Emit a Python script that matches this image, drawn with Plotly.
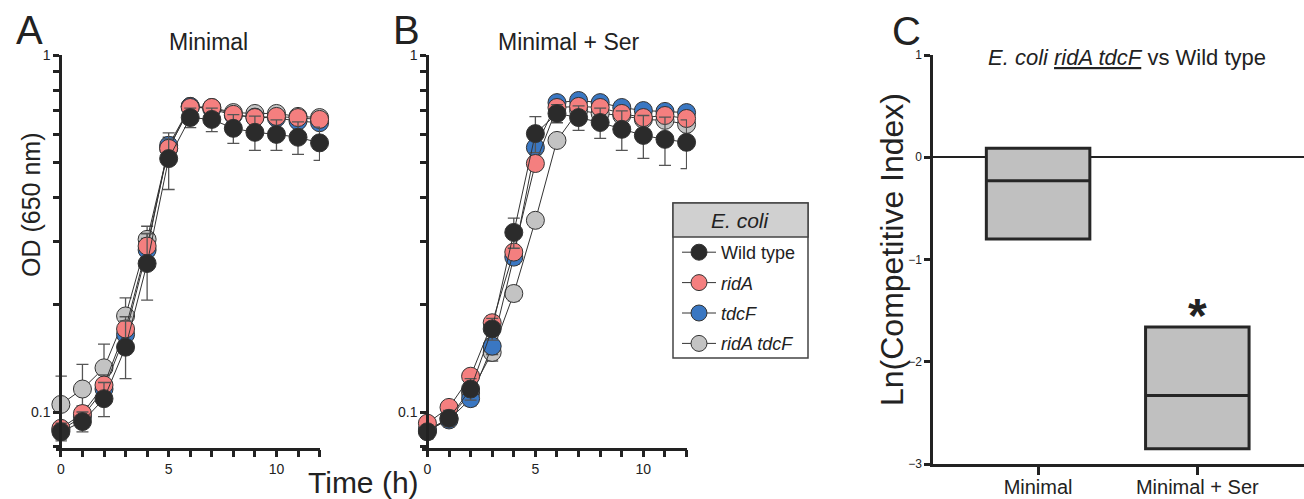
import plotly.graph_objects as go

# ---------------- data ----------------
time_h = list(range(13))

strain_names = ["Wild type", "<i>ridA</i>", "<i>tdcF</i>", "<i>ridA tdcF</i>"]
strain_colors = ["#2b2b2b", "#f47f7f", "#3a77c2", "#c3c3c3"]

# Panel A: Minimal medium (OD650)
wt_min = [0.088, 0.094, 0.109, 0.152, 0.261, 0.514, 0.670, 0.662, 0.625, 0.609, 0.601, 0.590, 0.569]
wt_min_sd = [0.005, 0.006, 0.012, 0.028, 0.055, 0.093, 0.042, 0.050, 0.058, 0.067, 0.059, 0.062, 0.061]
ridA_min = [0.090, 0.099, 0.119, 0.171, 0.292, 0.549, 0.715, 0.715, 0.684, 0.670, 0.675, 0.670, 0.662]
ridA_min_sd = [0.004, 0.005, 0.008, 0.014, 0.025, 0.035, 0.018, 0.018, 0.020, 0.020, 0.018, 0.018, 0.018]
tdcF_min = [0.089, 0.097, 0.116, 0.165, 0.285, 0.560, 0.720, 0.708, 0.680, 0.672, 0.668, 0.655, 0.648]
tdcF_min_sd = [0.004, 0.005, 0.007, 0.012, 0.022, 0.030, 0.015, 0.015, 0.015, 0.015, 0.015, 0.015, 0.015]
dbl_min = [0.105, 0.116, 0.133, 0.186, 0.305, 0.549, 0.720, 0.715, 0.692, 0.688, 0.688, 0.675, 0.670]
dbl_min_sd = [0.021, 0.020, 0.022, 0.023, 0.027, 0.030, 0.010, 0.012, 0.012, 0.012, 0.012, 0.012, 0.012]

# Panel B: Minimal + Ser (OD650)
wt_ser = [0.088, 0.096, 0.116, 0.171, 0.319, 0.604, 0.688, 0.670, 0.649, 0.621, 0.597, 0.582, 0.571]
wt_ser_sd = [0.004, 0.005, 0.008, 0.012, 0.031, 0.070, 0.040, 0.053, 0.063, 0.079, 0.082, 0.090, 0.089]
ridA_ser = [0.093, 0.103, 0.126, 0.178, 0.281, 0.498, 0.715, 0.720, 0.715, 0.688, 0.670, 0.679, 0.666]
ridA_ser_sd = [0.003, 0.004, 0.005, 0.008, 0.012, 0.020, 0.025, 0.025, 0.025, 0.025, 0.025, 0.025, 0.025]
tdcF_ser = [0.089, 0.095, 0.109, 0.153, 0.272, 0.552, 0.738, 0.748, 0.738, 0.715, 0.701, 0.697, 0.692]
tdcF_ser_sd = [0.003, 0.004, 0.005, 0.008, 0.012, 0.025, 0.015, 0.015, 0.015, 0.015, 0.015, 0.015, 0.015]
dbl_ser = [0.089, 0.096, 0.113, 0.147, 0.215, 0.345, 0.578, 0.701, 0.688, 0.679, 0.662, 0.658, 0.641]
dbl_ser_sd = [0.003, 0.004, 0.005, 0.008, 0.010, 0.015, 0.020, 0.020, 0.020, 0.020, 0.020, 0.020, 0.020]

# Panel C: Ln(Competitive Index), floating bars (min - max, line at median)
ci_groups = ["Minimal", "Minimal + Ser"]
ci_min = [-0.80, -2.85]
ci_median = [-0.23, -2.33]
ci_max = [0.088, -1.66]

od_ticks = [0.08, 0.1, 0.2, 0.3, 0.4, 0.5, 0.6, 0.7, 0.8, 0.9, 1]
od_ticktext = ["", "0.1", "", "", "", "", "", "", "", "", "1"]
time_ticks = list(range(13))
time_ticktext = ["0", "", "", "", "", "5", "", "", "", "", "10", "", ""]

# ---------------- figure ----------------
W, H = 1304, 499
FONT = "Liberation Sans, Arial, sans-serif"
AX = "#222222"


def px(x):
    return x / W


def py(y):
    return 1 - y / H


fig = go.Figure()

series_A = [
    (3, dbl_min, dbl_min_sd),
    (2, tdcF_min, tdcF_min_sd),
    (1, ridA_min, ridA_min_sd),
    (0, wt_min, wt_min_sd),
]
series_B = [
    (3, dbl_ser, dbl_ser_sd),
    (2, tdcF_ser, tdcF_ser_sd),
    (1, ridA_ser, ridA_ser_sd),
    (0, wt_ser, wt_ser_sd),
]

for (idx, vals, sd) in series_A:
    fig.add_trace(go.Scatter(
        x=time_h, y=vals, mode="lines+markers", xaxis="x", yaxis="y",
        name=strain_names[idx], legendgroup=f"g{idx}", legendrank=idx + 1,
        showlegend=False, cliponaxis=False,
        line=dict(color="#333333", width=1),
        marker=dict(size=18, color=strain_colors[idx], line=dict(color="#333333", width=1)),
        error_y=dict(type="data", array=sd, color="#555555", thickness=1.3, width=6),
    ))

for (idx, vals, sd) in series_B:
    fig.add_trace(go.Scatter(
        x=time_h, y=vals, mode="lines+markers", xaxis="x2", yaxis="y2",
        name=strain_names[idx], legendgroup=f"g{idx}", legendrank=idx + 1,
        showlegend=True, cliponaxis=False,
        line=dict(color="#333333", width=1),
        marker=dict(size=18, color=strain_colors[idx], line=dict(color="#333333", width=1)),
        error_y=dict(type="data", array=sd, color="#555555", thickness=1.3, width=6),
    ))

fig.add_trace(go.Box(
    x=ci_groups, q1=ci_min, median=ci_median, q3=ci_max,
    lowerfence=ci_min, upperfence=ci_max,
    xaxis="x3", yaxis="y3", width=0.65, whiskerwidth=0,
    fillcolor="#c0c0c0", line=dict(color="#262626", width=3),
    showlegend=False, hoverinfo="skip",
))

common_x = dict(
    type="linear", range=[-0.25, 12.02], tickmode="array", tickvals=time_ticks,
    ticktext=time_ticktext, ticks="outside", ticklen=7, tickwidth=2.5, tickcolor=AX,
    showline=True, linecolor=AX, linewidth=2.5, showgrid=False, zeroline=False,
    tickfont=dict(size=14, color="#222", family=FONT), automargin=False,
)
common_y = dict(
    type="log", range=[-1.0996, 0.003], tickmode="array", tickvals=od_ticks,
    ticktext=od_ticktext, ticks="outside", ticklen=6, tickwidth=2.5, tickcolor=AX,
    showline=True, linecolor=AX, linewidth=2.5, showgrid=False, zeroline=False,
    tickfont=dict(size=14, color="#222", family=FONT), anchor="free",
    domain=[py(447.5), py(54.5)], automargin=False,
)

fig.update_layout(
    width=W, height=H,
    margin=dict(l=0, r=0, t=0, b=0, autoexpand=False),
    paper_bgcolor="white", plot_bgcolor="rgba(0,0,0,0)",
    font=dict(family=FONT, color="#222"),
    xaxis=dict(common_x, domain=[px(55.5), px(320)], anchor="y"),
    yaxis=dict(common_y, position=px(60)),
    xaxis2=dict(common_x, domain=[px(422), px(687)], anchor="y2"),
    yaxis2=dict(common_y, position=px(427)),
    xaxis3=dict(
        type="category", range=[-0.66, 1.67], domain=[px(933), 1.0], anchor="y3",
        ticks="outside", ticklen=8, tickwidth=2.5, tickcolor=AX,
        showline=True, linecolor=AX, linewidth=2.5, showgrid=False,
        ticklabelstandoff=-5,
        tickfont=dict(size=20, color="#222", family=FONT), automargin=False,
    ),
    yaxis3=dict(
        range=[-3, 1], domain=[py(464), py(55)], anchor="x3",
        tickvals=[-3, -2, -1, 0, 1], ticks="outside", ticklen=6, tickwidth=2.5, tickcolor=AX,
        showline=True, linecolor=AX, linewidth=2.5, showgrid=False,
        zeroline=True, zerolinecolor=AX, zerolinewidth=1.6,
        tickfont=dict(size=12, color="#222", family=FONT), automargin=False,
    ),
    legend=dict(
        x=px(677), y=py(234), xanchor="left", yanchor="top",
        bgcolor="rgba(0,0,0,0)", borderwidth=0,
        font=dict(size=18, color="#222", family=FONT),
        traceorder="grouped", tracegroupgap=4, itemwidth=34,
    ),
    showlegend=True,
)

# legend frame with grey header band
fig.add_shape(type="rect", xref="paper", yref="paper",
              x0=px(673), x1=px(808), y0=py(358), y1=py(203),
              fillcolor="white", line=dict(color="#444", width=1.5), layer="above")
fig.add_shape(type="rect", xref="paper", yref="paper",
              x0=px(673), x1=px(808), y0=py(237), y1=py(203),
              fillcolor="#d0d0d0", line=dict(color="#444", width=1.5), layer="above")

annots = [
    dict(text="<i>E. coli</i>", x=px(740), y=py(220), size=21),
    dict(text="A", x=px(29), y=py(30), size=40),
    dict(text="B", x=px(407), y=py(30), size=40),
    dict(text="C", x=px(906), y=py(31), size=40),
    dict(text="Minimal", x=px(208), y=py(42), size=23),
    dict(text="Minimal + Ser", x=px(569), y=py(42), size=23),
    dict(text="<i>E. coli</i> <i><u>ridA tdcF</u></i> vs Wild type", x=px(1127), y=py(57), size=22),
    dict(text="Time (h)", x=px(363), y=py(482), size=30),
]
for a in annots:
    fig.add_annotation(text=a["text"], x=a["x"], y=a["y"], xref="paper", yref="paper",
                       xanchor="center", yanchor="middle", showarrow=False,
                       font=dict(size=a["size"], color="#222", family=FONT))

fig.add_annotation(text="OD (650 nm)", x=px(31), y=py(205), xref="paper", yref="paper",
                   textangle=-90, showarrow=False, xanchor="center", yanchor="middle",
                   font=dict(size=25, color="#222", family=FONT))
fig.add_annotation(text="Ln(Competitive Index)", x=px(892), y=py(250), xref="paper", yref="paper",
                   textangle=-90, showarrow=False, xanchor="center", yanchor="middle",
                   font=dict(size=32, color="#222", family=FONT))

# significance asterisk above the Minimal + Ser bar
fig.add_annotation(text="<b>*</b>", x=ci_groups[1], y=ci_max[1], xref="x3", yref="y3",
                   xanchor="center", yanchor="bottom", showarrow=False, yshift=-17,
                   font=dict(size=48, color="#222", family=FONT))

fig.write_html(
    "out.html",
    config={"displayModeBar": False},
    post_script="document.body.style.margin='0';document.body.style.padding='0';",
)
